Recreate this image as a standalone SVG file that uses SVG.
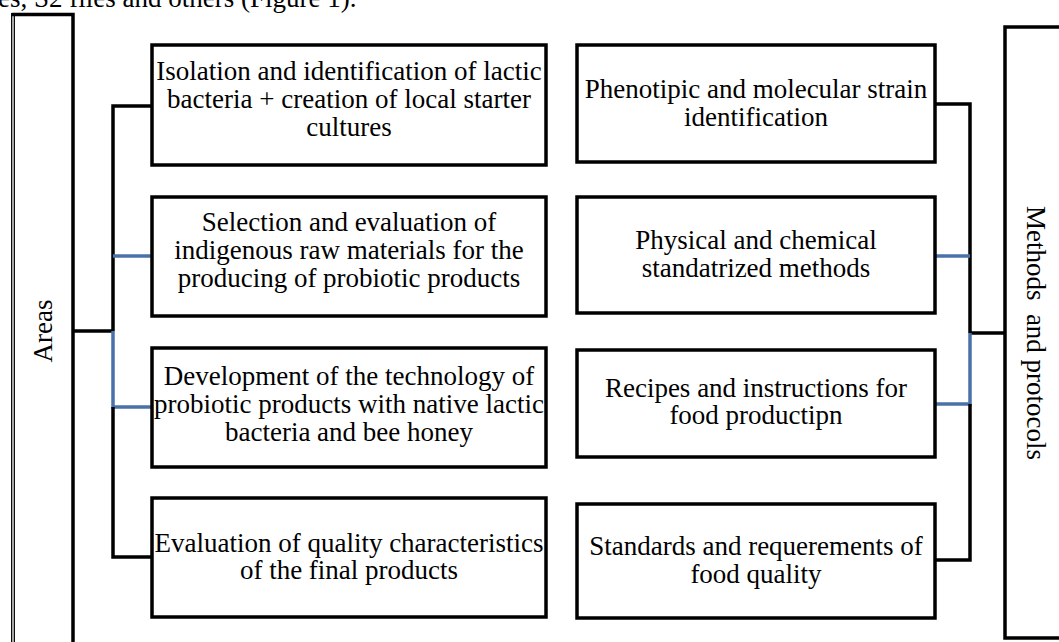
<svg xmlns="http://www.w3.org/2000/svg" width="1059" height="642" viewBox="0 0 1059 642">
<style>
text{font-family:"Liberation Serif","Times New Roman",serif;font-size:27px;fill:#000}
.c{text-anchor:middle}
.box{fill:#fff;stroke:#000;stroke-width:3.5}
.k{fill:none;stroke:#000;stroke-width:3.5}
.b{fill:none;stroke:#4a72a8;stroke-width:3.5}
</style>
<rect width="1059" height="642" fill="#fff"/>
<text x="-2" y="7">es, S2 files and others (Figure 1).</text>

<g id="areas">
<path class="k" d="M11.7 14.5 H73 V650"/>
<line x1="11.7" y1="13" x2="11.7" y2="650" stroke="#000" stroke-width="1.3"/>
<line x1="14.3" y1="14.5" x2="14.3" y2="650" stroke="#000" stroke-width="1.3"/>
<text class="c" transform="translate(52 331) rotate(-90)">Areas</text>
</g>

<g id="methods">
<path class="k" d="M1065 27 H1005 V638 H1065"/>
<text class="c" transform="translate(1027 333) rotate(90)">Methods&#160; and protocols</text>
</g>

<g id="connectors">
<path class="k" d="M73 331 H113 M113 331 V106 H152"/>
<path class="b" d="M113 331 V407 H152 M113 256 H152"/>
<path class="k" d="M113 407 V557 H152"/>
<path class="k" d="M1005 333 H970 M970 333 V104 H935"/>
<path class="b" d="M970 333 V404 H935 M970 256 H935"/>
<path class="k" d="M970 404 V560 H935"/>
</g>

<g id="l1"><rect class="box" x="152" y="45" width="394" height="120"/>
<text class="c" x="349" y="80">Isolation and identification of lactic</text>
<text class="c" x="349" y="108">bacteria + creation of local starter</text>
<text class="c" x="349" y="136">cultures</text></g>

<g id="l2"><rect class="box" x="152" y="197" width="394" height="119"/>
<text class="c" x="349" y="231">Selection and evaluation of</text>
<text class="c" x="349" y="259">indigenous raw materials for the</text>
<text class="c" x="349" y="287">producing of probiotic products</text></g>

<g id="l3"><rect class="box" x="152" y="348" width="394" height="119"/>
<text class="c" x="349" y="385">Development of the technology of</text>
<text class="c" x="349" y="413">probiotic products with native lactic</text>
<text class="c" x="349" y="441">bacteria and bee honey</text></g>

<g id="l4"><rect class="box" x="152" y="498" width="394" height="119"/>
<text class="c" x="349" y="552">Evaluation of quality characteristics</text>
<text class="c" x="349" y="579">of the final products</text></g>

<g id="r1"><rect class="box" x="577" y="45" width="358" height="117"/>
<text class="c" x="756" y="98">Phenotipic and molecular strain</text>
<text class="c" x="756" y="126">identification</text></g>

<g id="r2"><rect class="box" x="577" y="197" width="358" height="116"/>
<text class="c" x="756" y="249">Physical and chemical</text>
<text class="c" x="756" y="277">standatrized methods</text></g>

<g id="r3"><rect class="box" x="577" y="350" width="358" height="107"/>
<text class="c" x="756" y="397">Recipes and instructions for</text>
<text class="c" x="756" y="424">food productipn</text></g>

<g id="r4"><rect class="box" x="577" y="504" width="358" height="114"/>
<text class="c" x="756" y="555">Standards and requerements of</text>
<text class="c" x="756" y="583">food quality</text></g>
</svg>
